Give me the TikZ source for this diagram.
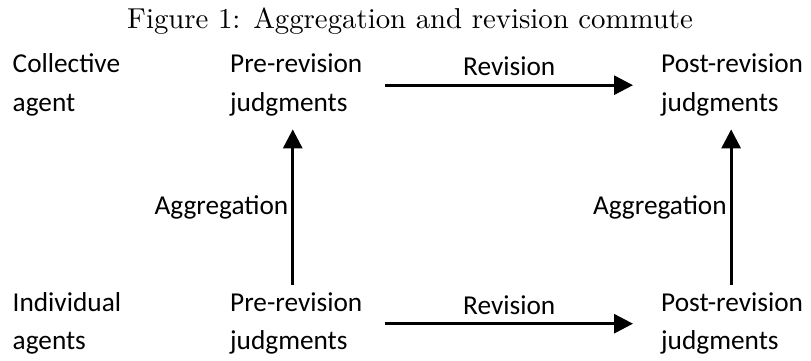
\documentclass[tikz,border=0pt]{standalone}
\usepackage{fontspec}
\newfontfamily\calibri{Carlito}
\usepackage{tikz}
\usetikzlibrary{arrows.meta,positioning}

\begin{document}
\begin{tikzpicture}[
    x=1pt, y=1pt,
    lbl/.style={font=\calibri\fontsize{27.3}{38.5}\selectfont, align=left, inner sep=0pt},
    flow/.style={line width=3pt, -{Triangle[length=19pt,width=19pt]}}
]
    \useasboundingbox (0,0) rectangle (811,361);

    % title
    \node[anchor=base, inner sep=0pt, font=\fontsize{10}{12}\selectfont, scale=2.88, transform shape] (title) at (410,332) {Figure 1: Aggregation and revision commute};

    % rows
    \node[lbl, anchor=base west] (collective) at (12.5,249.5) {Collective\\agent};
    \node[lbl, anchor=base west] (preC) at (230,249.5) {Pre-revision\\judgments};
    \node[lbl, anchor=base west] (postC) at (661,249.5) {Post-revision\\judgments};

    \node[lbl, anchor=base west] (individual) at (12.5,11) {Individual\\agents};
    \node[lbl, anchor=base west] (preI) at (230,11) {Pre-revision\\judgments};
    \node[lbl, anchor=base west] (postI) at (661,11) {Post-revision\\judgments};

    % revision
    \draw[flow] ([xshift=23pt]preC.east) -- node[lbl, above, inner sep=8pt] (revC) {Revision} ([xshift=-28pt]postC.west);
    \draw[flow] ([xshift=23pt]preI.east) -- node[lbl, above, inner sep=8pt] (revI) {Revision} ([xshift=-28pt]postI.west);

    % aggregation
    \draw[flow] ([xshift=-3.5pt,yshift=8pt]preI.north) -- node[lbl, left, inner sep=3pt] (aggL) {Aggregation} ([xshift=-3.5pt,yshift=-13pt]preC.south);
    \draw[flow] ([xshift=-1pt,yshift=8pt]postI.north) -- node[lbl, left, inner sep=3pt] (aggR) {Aggregation} ([xshift=-1pt,yshift=-13pt]postC.south);
\end{tikzpicture}
\end{document}
